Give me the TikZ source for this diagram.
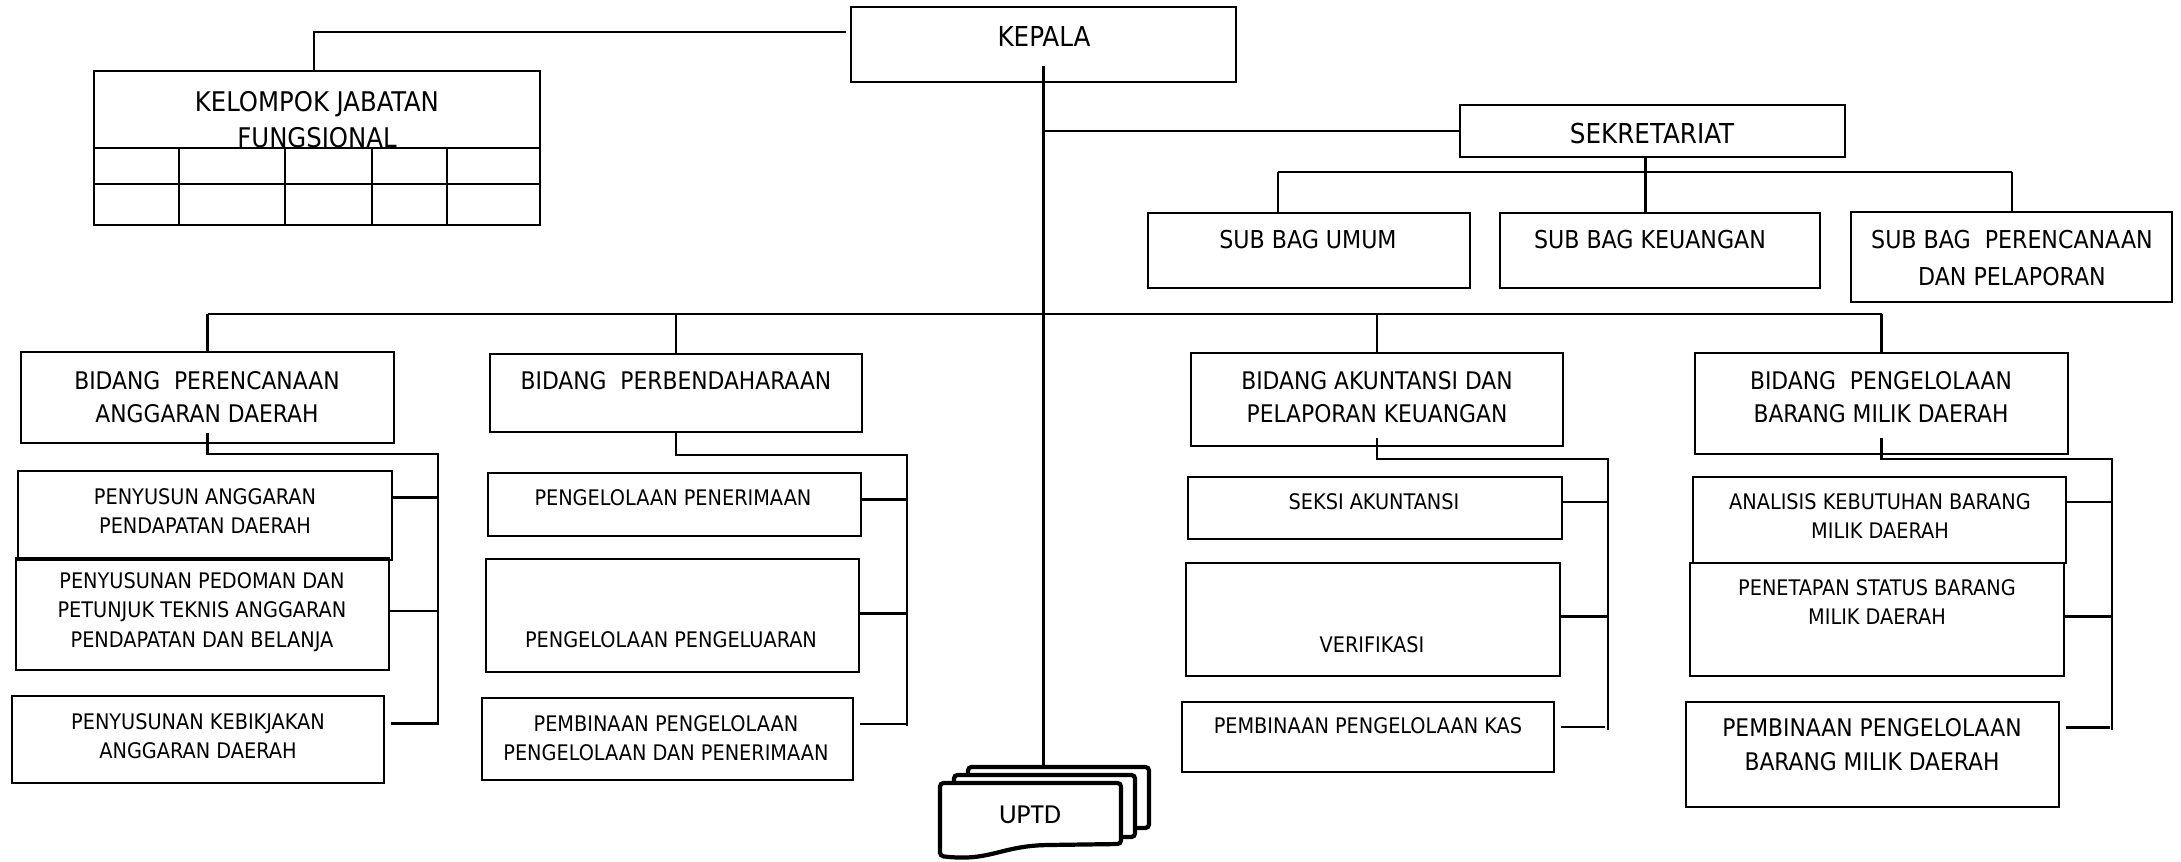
\documentclass[tikz,border=0pt]{standalone}
\usepackage{fontspec}
\setmainfont{DejaVu Sans Condensed}
\newfontfamily\uptdfont{Carlito}
\usetikzlibrary{fit}
\tikzset{
  box/.style={draw, line width=0.65pt, inner sep=0pt},
  sheet/.style={draw, fill=white, line width=1.2pt, rounded corners=1pt, inner sep=0pt},
  link/.style={line width=0.65pt},
  bigtxt/.style={align=center, inner sep=0pt, font=\fontsize{7.7}{10.3}\selectfont},
  subtxt/.style={align=center, inner sep=0pt, font=\fontsize{7.0}{10.5}\selectfont},
  midtxt/.style={align=center, inner sep=0pt, font=\fontsize{6.9}{9.4}\selectfont},
  smalltxt/.style={align=center, inner sep=0pt, font=\fontsize{6.1}{8.4}\selectfont},
}
\begin{document}
\begin{tikzpicture}[x=0.01cm,y=-0.01cm]
      \useasboundingbox (0,0) rectangle (2181,862);
      % top level
      \node[box, fit={(851,7) (1236,82)}] (kepala) {};
      \node[bigtxt, font=\fontsize{7.8}{10.3}\selectfont] (kepalat) at (1044,37) {KEPALA};
      \node[box, fit={(94,71) (540,225)}] (kelompok) {};
      \node[bigtxt] (kelompokt) at (317,120) {KELOMPOK JABATAN\\FUNGSIONAL};
      \draw[link] (94,148) -- (540,148);
      \draw[link] (94,184) -- (540,184);
      \foreach \gx in {179,285,372,447}
        \draw[link] (\gx,148) -- (\gx,225);
      \node[box, fit={(1460,105) (1845,157)}] (sekretariat) {};
      \node[bigtxt, font=\fontsize{7.8}{10.3}\selectfont] (sekretariatt) at (1652,134) {SEKRETARIAT};
      % sub bagian
      \node[box, fit={(1148,213) (1470,288)}] (subumum) {};
      \node[subtxt] at (1308,240) {SUB BAG UMUM};
      \node[box, fit={(1500,213) (1820,288)}] (subkeu) {};
      \node[subtxt] at (1650,240) {SUB BAG KEUANGAN};
      \node[box, fit={(1851,212) (2172,302)}] (subren) {};
      \node[subtxt] at (2012,258) {SUB BAG\ \ PERENCANAAN\\DAN PELAPORAN};
      % bidang
      \node[box, fit={(21,352) (394,443)}] (bidren) {};
      \node[midtxt] at (207,397) {BIDANG\ \ PERENCANAAN\\ANGGARAN DAERAH};
      \node[box, fit={(490,354) (862,432)}] (bidben) {};
      \node[midtxt] at (676,381) {BIDANG\ \ PERBENDAHARAAN};
      \node[box, fit={(1191,353) (1563,446)}] (bidaku) {};
      \node[midtxt] at (1377,397) {BIDANG AKUNTANSI DAN\\PELAPORAN KEUANGAN};
      \node[box, fit={(1695,353) (2068,454)}] (bidbmd) {};
      \node[midtxt] at (1881,397) {BIDANG\ \ PENGELOLAAN\\BARANG MILIK DAERAH};
      % seksi
      \node[box, fit={(18,471) (392,560)}] (pa1) {};
      \node[smalltxt] at (205,511) {PENYUSUN ANGGARAN\\PENDAPATAN DAERAH};
      \node[box, fit={(16,558) (389,670)}] (pa2) {};
      \node[smalltxt] at (202,612) {PENYUSUNAN PEDOMAN DAN\\PETUNJUK TEKNIS ANGGARAN\\PENDAPATAN DAN BELANJA};
      \node[box, fit={(12,696) (384,783)}] (pa3) {};
      \node[smalltxt] at (198,736) {PENYUSUNAN KEBIKJAKAN\\ANGGARAN DAERAH};
      \node[box, fit={(488,473) (861,536)}] (pb1) {};
      \node[smalltxt] at (673,498) {PENGELOLAAN PENERIMAAN};
      \node[box, fit={(486,559) (859,672)}] (pb2) {};
      \node[smalltxt] at (671,640) {PENGELOLAAN PENGELUARAN};
      \node[box, fit={(482,698) (853,780)}] (pb3) {};
      \node[smalltxt] at (666,738) {PEMBINAAN PENGELOLAAN\\PENGELOLAAN DAN PENERIMAAN};
      \node[box, fit={(1188,477) (1562,539)}] (pc1) {};
      \node[smalltxt] at (1374,502) {SEKSI AKUNTANSI};
      \node[box, fit={(1186,563) (1560,676)}] (pc2) {};
      \node[smalltxt] at (1372,645) {VERIFIKASI};
      \node[box, fit={(1182,702) (1554,772)}] (pc3) {};
      \node[smalltxt] at (1368,726) {PEMBINAAN PENGELOLAAN KAS};
      \node[box, fit={(1693,477) (2066,563)}] (pd1) {};
      \node[smalltxt] at (1880,516) {ANALISIS KEBUTUHAN BARANG\\MILIK DAERAH};
      \node[box, fit={(1690,563) (2064,676)}] (pd2) {};
      \node[smalltxt] at (1877,602) {PENETAPAN STATUS BARANG\\MILIK DAERAH};
      \node[box, fit={(1686,702) (2059,807)}] (pd3) {};
      \node[midtxt, font=\fontsize{6.9}{9.7}\selectfont] at (1872,745) {PEMBINAAN PENGELOLAAN\\BARANG MILIK DAERAH};
      % uptd
      \node[sheet, fit={(968,767) (1149,828)}] (uptdback) {};
      \node[sheet, fit={(954,775) (1135,837)}] (uptdmid) {};
      \draw[sheet] (940,856) -- (940,783) -- (1121,783) -- (1121,844) -- (1050,845)
        .. controls (1000,846) and (990,862) .. cycle;
      \node[inner sep=0pt, font=\uptdfont\fontsize{7.8}{9}\selectfont] (uptd) at (1030,815) {UPTD};
      % lines from kepala
      \draw[link] ([shift={(-0.04cm,0.125cm)}]kepala.west) -| ([xshift=-0.03cm]kelompok.north);
      \draw[link] ([yshift=0.17cm]kepala.south) -- (kepala.south |- uptdback.north);
      \draw[link] (kepala.south |- sekretariat.west) -- (sekretariat.west);
      % sekretariat
      \coordinate (sekl) at (1278,172);
      \coordinate (sekr) at (2012,172);
      \draw[link] (sekl) -- (sekr);
      \draw[link] (sekl) -- (sekl |- subumum.north);
      \draw[link] (sekr) -- (sekr |- subren.north);
      \draw[link] ([xshift=-0.07cm]sekretariat.south) -- ([xshift=-0.07cm]sekretariat.south |- subkeu.north);
      % bidang bar
      \coordinate (bar) at (1044,314);
      \draw[link] (bidren.north |- bar) -- (bidbmd.north |- bar);
      \foreach \b in {bidren,bidben,bidaku,bidbmd}
        \draw[link] (\b.north |- bar) -- (\b.north);
      % spines
      \coordinate (renturn) at (438,454);
      \coordinate (renend) at (438,723);
      \coordinate (benturn) at (907,455);
      \coordinate (benend) at (907,726);
      \coordinate (akuturn) at (1608,459);
      \coordinate (akuend) at (1608,730);
      \coordinate (bmdturn) at (2112,459);
      \coordinate (bmdend) at (2112,730);
      \draw[link] ([yshift=0.11cm]bidren.south) |- (renturn) -- (renend);
      \draw[link] (bidben.south) |- (benturn) -- (benend);
      \draw[link] ([yshift=0.09cm]bidaku.south) |- (akuturn) -- (akuend);
      \draw[link] ([yshift=0.17cm]bidbmd.south) |- (bmdturn) -- (bmdend);
      % branches
      \draw[link] (pa1.east) ++(-2,-18) -- ++(48,0);
      \draw[link] (pa2.east) ++(-1,-3) -- ++(50,0);
      \draw[link] (pa3.east) ++(6,-16) -- ++(48,0);
      \draw[link] (pb1.east) ++(0,-5) -- ++(46,0);
      \draw[link] (pb2.east) ++(-1,-2) -- ++(49,0);
      \draw[link] (pb3.east) ++(6,-15) -- ++(48,0);
      \draw[link] (pc1.east) ++(-1,-6) -- ++(47,0);
      \draw[link] (pc2.east) ++(-2,-3) -- ++(50,0);
      \draw[link] (pc3.east) ++(6,-10) -- ++(44,0);
      \draw[link] (pd1.east) ++(0,-18) -- ++(44,0);
      \draw[link] (pd2.east) ++(-1,-3) -- ++(49,0);
      \draw[link] (pd3.east) ++(6,-27) -- ++(44,0);
\end{tikzpicture}
\end{document}
